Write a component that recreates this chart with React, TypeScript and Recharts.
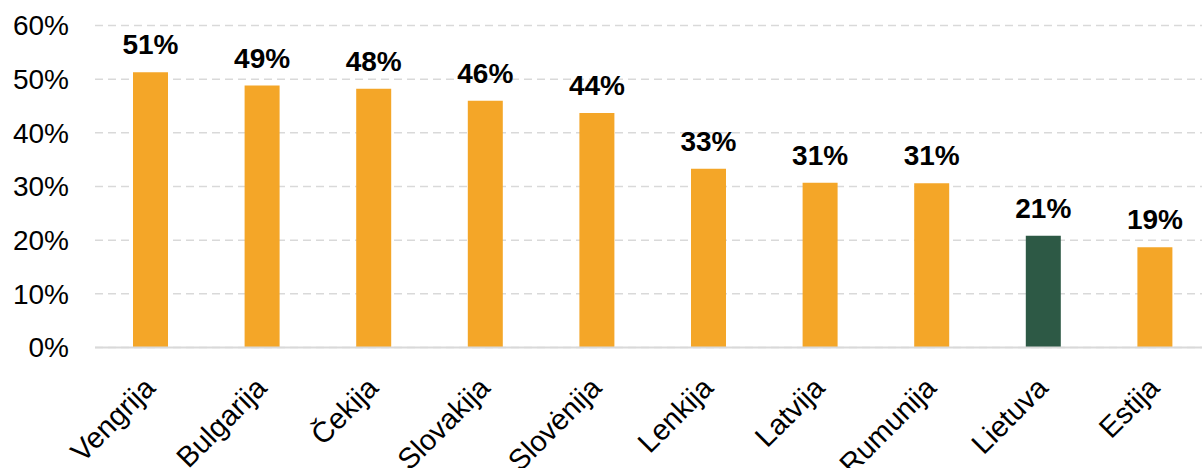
import React from 'react';
import { BarChart, Bar, XAxis, YAxis, CartesianGrid, Cell, LabelList } from 'recharts';

const categories = ['Vengrija', 'Bulgarija', 'Čekija', 'Slovakija', 'Slovėnija', 'Lenkija', 'Latvija', 'Rumunija', 'Lietuva', 'Estija'];
const values = [51.3, 48.8, 48.2, 46.0, 43.7, 33.3, 30.7, 30.6, 20.8, 18.7];
const highlighted = 'Lietuva';
const yTicks = [0, 10, 20, 30, 40, 50, 60];

const ORANGE = '#F4A628';
const GREEN = '#2D5945';
const FONT = '"Liberation Sans", Arial, sans-serif';

const data = categories.map((name, i) => ({ name, value: values[i] }));

const XTick = (props: any) => {
  const { x, y, payload } = props;
  return (
    <g transform={`translate(${x + 6},${y + 42})`}>
      <text x={0} y={0} textAnchor="end" transform="rotate(-45)" fontSize={29} fontFamily={FONT} fill="#000">
        {payload.value}
      </text>
    </g>
  );
};

export default function App() {
  return (
    <div style={{ position: 'absolute', left: 0, top: 0, width: 1202, height: 468, overflow: 'hidden', background: '#fff' }}>
      <BarChart
        width={1220}
        height={468}
        data={data}
        margin={{ top: 25.5, right: 9, bottom: 0.5, left: 0 }}
        barCategoryGap={0}
      >
        <CartesianGrid vertical={false} stroke="#D9D9D9" strokeWidth={1.5} strokeDasharray="8 5" />
        <XAxis
          dataKey="name"
          height={120}
          tickSize={0}
          tickMargin={0}
          tickLine={false}
          axisLine={{ stroke: '#D9D9D9', strokeWidth: 2 }}
          tick={<XTick />}
          interval={0}
        />
        <YAxis
          width={95}
          domain={[0, 60]}
          ticks={yTicks}
          tickFormatter={(v: number) => `${v}%`}
          axisLine={false}
          tickLine={false}
          tickSize={0}
          tickMargin={26}
          tick={{ fontSize: 28, fontFamily: FONT, fill: '#000' }}
          interval={0}
        />
        <Bar dataKey="value" barSize={35} isAnimationActive={false}>
          {data.map((d) => (
            <Cell key={d.name} fill={d.name === highlighted ? GREEN : ORANGE} />
          ))}
          <LabelList
            dataKey="value"
            position="top"
            offset={18}
            formatter={(v: any) => `${Math.round(Number(v))}%`}
            style={{ fontSize: 28, fontWeight: 'bold', fontFamily: FONT, fill: '#000' }}
          />
        </Bar>
      </BarChart>
    </div>
  );
}
